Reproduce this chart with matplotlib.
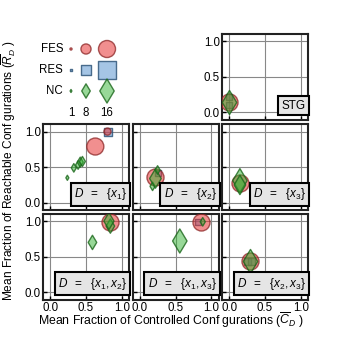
import numpy as np
import matplotlib
matplotlib.use("Agg")
import matplotlib.pyplot as plt

plt.rcParams['font.family'] = ['Liberation Sans', 'DejaVu Sans']
plt.rcParams['mathtext.fontset'] = 'custom'
plt.rcParams['mathtext.rm'] = 'Liberation Sans'
plt.rcParams['mathtext.it'] = 'Liberation Sans:italic'
plt.rcParams['mathtext.bf'] = 'Liberation Sans:bold'

# ====== data (one entry per panel) ======
panel_labels = ["STG", r"$D\ \ =\ \ \{x_1\}$", r"$D\ \ =\ \ \{x_2\}$", r"$D\ \ =\ \ \{x_3\}$",
                r"$D\ \ =\ \ \{x_1, x_2\}$", r"$D\ \ =\ \ \{x_1, x_3\}$", r"$D\ \ =\ \ \{x_2, x_3\}$"]

fes_x = [[0.0], [0.63, 0.80], [0.22], [0.15], [0.84], [0.85], [0.285]]
fes_y = [[0.15], [0.79, 1.0], [0.36], [0.28], [0.99], [0.99], [0.435]]
fes_n = [[16], [16, 5], [16], [16], [16], [16], [16]]

res_x = [[0.0, 0.0], [0.80], [0.25], [], [], [0.82], [0.26, 0.31]]
res_y = [[0.21, 0.10], [1.0], [0.42], [], [], [0.99], [0.435, 0.435]]
res_n = [[4, 4], [5], [4], [], [], [4], [5, 5]]

nc_x = [[0.0], [0.24, 0.33, 0.39, 0.42, 0.45], [0.18, 0.22, 0.25], [0.15, 0.15],
        [0.59, 0.84, 0.82], [0.56, 0.88], [0.285]]
nc_y = [[0.15], [0.35, 0.49, 0.53, 0.57, 0.58], [0.23, 0.34, 0.46], [0.31, 0.25],
        [0.70, 0.93, 1.0], [0.72, 0.99], [0.44]]
nc_n = [[16], [2, 4, 4, 5, 5], [4, 12, 4], [16, 12], [8, 8, 10], [16, 4], [16]]

legend_sizes = [1, 8, 16]
legend_names = ["FES", "RES", "NC"]

# ====== styles ======
FES_FACE = (0.90, 0.20, 0.20, 0.55)
FES_EDGE = (0.55, 0.15, 0.15, 0.75)
RES_FACE = (0.30, 0.55, 0.80, 0.50)
RES_EDGE = (0.15, 0.30, 0.45, 0.8)
NC_FACE = (0.20, 0.70, 0.20, 0.50)
NC_EDGE = (0.10, 0.40, 0.10, 0.8)


def msize(n):
    return 2.35 * np.asarray(n, dtype=float) ** 1.5


W, H = 343, 345
fig = plt.figure(figsize=(W / 100, H / 100), dpi=100)

col_left = [43, 132.5, 222]
row_top = [34, 124.5, 214]
aw, ah = 86, 86
# (row, col) for each panel
slots = [(0, 2), (1, 0), (1, 1), (1, 2), (2, 0), (2, 1), (2, 2)]

for i, (r, c) in enumerate(slots):
    ax = fig.add_axes([col_left[c] / W, 1 - (row_top[r] + ah) / H, aw / W, ah / H])
    ax.set_xlim(-0.1, 1.1)
    ax.set_ylim(-0.11, 1.1)
    ax.set_xticks([0.0, 0.5, 1.0])
    ax.set_yticks([0.0, 0.5, 1.0])
    ax.grid(True, color='#888888', linewidth=0.8)
    ax.set_axisbelow(True)
    for sp in ax.spines.values():
        sp.set_linewidth(1.5)
        sp.set_color('#222222')
    ax.tick_params(direction='in', length=3, width=1, labelsize=8.3, pad=1.5)
    if r != 2:
        ax.tick_params(labelbottom=False)
    if not (c == 0 or i == 0):
        ax.tick_params(labelleft=False)

    if res_x[i]:
        ax.scatter(res_x[i], res_y[i], s=msize(res_n[i]), marker='s',
                   facecolor=RES_FACE, edgecolor=RES_EDGE, linewidth=1.0, zorder=3)
    ax.scatter(fes_x[i], fes_y[i], s=msize(fes_n[i]), marker='o',
               facecolor=FES_FACE, edgecolor=FES_EDGE, linewidth=1.0, zorder=4)
    ax.scatter(nc_x[i], nc_y[i], s=msize(nc_n[i]), marker='d',
               facecolor=NC_FACE, edgecolor=NC_EDGE, linewidth=1.0, zorder=5)

    ax.text(0.975, 0.095, panel_labels[i], transform=ax.transAxes, ha='right', va='bottom',
            fontsize=8.5, zorder=10,
            bbox=dict(boxstyle='square,pad=0.3', facecolor='#e5e5e5',
                      edgecolor='black', linewidth=1.5))

# ====== size legend ======
lax = fig.add_axes([0, 0, 1, 1], zorder=-1)
lax.set_xlim(0, W)
lax.set_ylim(H, 0)
lax.axis('off')
leg_x = [71, 86, 107]
leg_y = [49, 70, 91]
faces = [FES_FACE, RES_FACE, NC_FACE]
edges = [FES_EDGE, RES_EDGE, NC_EDGE]
marks = ['o', 's', 'd']
for j, name in enumerate(legend_names):
    lax.text(63, leg_y[j], name, ha='right', va='center', fontsize=8.3)
    lax.scatter(leg_x, [leg_y[j]] * 3, s=msize(legend_sizes), marker=marks[j],
                facecolor=faces[j], edgecolor=edges[j], linewidth=1.0)
for k, n in enumerate(legend_sizes):
    lax.text(leg_x[k], 113, str(n), ha='center', va='center', fontsize=8.3)

fig.text(0.5, 1 - 325 / H, r"Mean Fraction of Controlled Conf gurations ($\overline{C}_D$ )",
         ha='center', va='baseline', fontsize=8.8)
fig.text(9 / W, 1 - 171 / H, r"Mean Fraction of Reachable Conf gurations ($\overline{R}_D$ )",
         ha='center', va='center', rotation=90, fontsize=8.6)

fig.savefig("out.png", dpi=100)
